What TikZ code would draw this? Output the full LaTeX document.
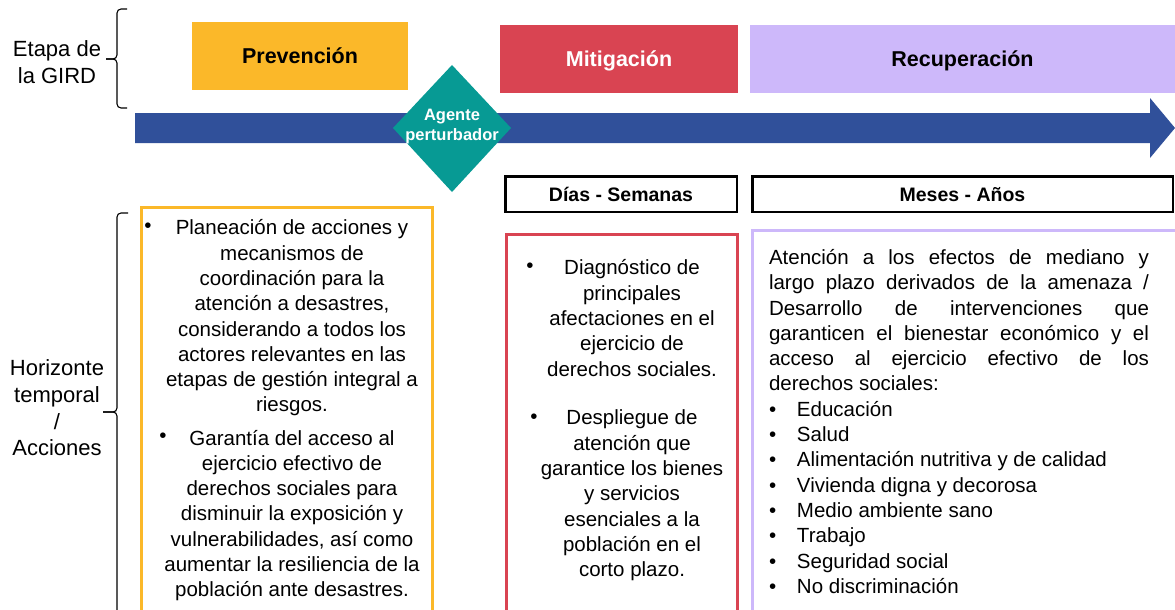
\documentclass[tikz,border=0pt]{standalone}
\usepackage{fontspec}
\setmainfont{Liberation Sans}

\definecolor{prevcolor}{HTML}{FBB829}
\definecolor{mitcolor}{HTML}{D94452}
\definecolor{reccolor}{HTML}{CDB8FA}
\definecolor{timecolor}{HTML}{30509A}
\definecolor{agentcolor}{HTML}{079A94}

\tikzset{
	phase/.style={fill=#1, minimum height=68pt, inner sep=0pt, text height=15.5pt, text depth=0pt, font=\fontsize{21.5}{24}\selectfont\bfseries},
	period/.style={draw=black, line width=2.5pt, minimum height=35.5pt, inner sep=0pt, text height=14pt, text depth=0pt, font=\fontsize{19.5}{22}\selectfont\bfseries},
	agent/.style={align=center, inner sep=0pt, text=white, font=\fontsize{16.5}{20}\selectfont\bfseries},
	actions/.style={align=center, inner sep=0pt, font=\fontsize{20.5}{25.3}\selectfont},
	long actions/.style={align=justify, text width=380pt, inner sep=0pt, font=\fontsize{20.5}{25.3}\selectfont},
	bulletdot/.style={inner sep=0pt, font=\fontsize{20.5}{25.3}\selectfont},
	side label/.style={align=center, inner sep=0pt, font=\fontsize{22}{26.7}\selectfont},
	gird brace/.style={line width=1.1pt, rounded corners=4pt},
}
\newcommand{\recitem}[1]{\makebox[28pt][l]{\textbullet}#1}

\begin{document}
\begin{tikzpicture}[x=1pt, y=-1pt]
		\def\boxbottom{625}
		\def\braceline{117}
		\clip (0,0) rectangle (1175,610);

		% etapas de la GIRD
		\node[phase=prevcolor, minimum width=216pt] (prevencion) 	at (300,56) {Prevención};
		\node[phase=mitcolor, minimum width=238pt, text=white] (mitigacion) at (619,59) {Mitigación};
		\node[phase=reccolor, minimum width=425pt] (recuperacion) 	at (962.5,59) {Recuperación};

		% flecha del tiempo
		\fill[timecolor] (135,113) -- (1150,113) -- (1150,98) -- (1175,128)
			-- (1150,158) -- (1150,143) -- (135,143) -- cycle;

		% agente perturbador
		\fill[agentcolor] (452,65) -- (511,128) -- (452,192) -- (393,128) -- cycle;
		\node[agent] (agente) at (452,127) {Agente\\perturbador};

		% horizonte temporal
		\node[period, minimum width=231.5pt] (dias) 	at (621,194) {Días - Semanas};
		\node[period, minimum width=420.5pt] (meses) 	at (962.5,194) {Meses - Años};

		% llaves y etiquetas laterales
		\coordinate (etapa top) 	at (127,9);
		\coordinate (etapa cusp) 	at (106,59);
		\coordinate (etapa bottom) 	at (127,108);
		\draw[gird brace] (etapa top) -- (\braceline,9) -- (\braceline,59) -- (etapa cusp);
		\draw[gird brace] (etapa cusp) -- (\braceline,59) -- (\braceline,108) -- (etapa bottom);
		\node[side label] (etapa) at (57,62) {Etapa de\\la GIRD};

		\coordinate (acciones top) 		at (128,213);
		\coordinate (acciones cusp) 	at (103,412);
		\coordinate (acciones bottom) 	at (128,616);
		\draw[gird brace] (acciones top) -- (\braceline,213) -- (\braceline,412) -- (acciones cusp);
		\draw[gird brace] (acciones cusp) -- (\braceline,412) -- (\braceline,616) -- (acciones bottom);
		\node[side label] (horizonte) at (57,408) {Horizonte\\temporal\\/\\Acciones};

		% acciones por etapa
		\draw[prevcolor, line width=3pt] (141.5,207.5) rectangle (432.5,\boxbottom);
		\draw[mitcolor, line width=3pt] (506.5,234.5) rectangle (737.5,\boxbottom);
		\draw[reccolor, line width=3pt] (752.5,230.5) rectangle (1190,\boxbottom);

		\node[bulletdot] (prev a dot) at (148,228) {\textbullet};
		\node[actions] (prev a) at (292,318) {Planeación de acciones y\\mecanismos de\\coordinación para la\\atención a desastres,\\considerando a todos los\\actores relevantes en las\\etapas de gestión integral a\\riesgos.};
		\node[bulletdot] (prev b dot) at (163,438) {\textbullet};
		\node[actions] (prev b) at (292,515.5) {Garantía del acceso al\\ejercicio efectivo de\\derechos sociales para\\disminuir la exposición y\\vulnerabilidades, así como\\aumentar la resiliencia de la\\población ante desastres.};

		\node[bulletdot] (mit a dot) at (530,268) {\textbullet};
		\node[actions] (mit a) at (632,318) {Diagnóstico de\\principales\\afectaciones en el\\ejercicio de\\derechos sociales.};
		\node[bulletdot] (mit b dot) at (534,419) {\textbullet};
		\node[actions] (mit b) at (632,495.5) {Despliegue de\\atención que\\garantice los bienes\\y servicios\\esenciales a la\\población en el\\corto plazo.};

		\node[long actions] (rec) at (959,421.5) {Atención a los efectos de mediano y\linebreak largo plazo derivados de la amenaza /\linebreak Desarrollo de intervenciones que\linebreak garanticen el bienestar económico y el\linebreak acceso al ejercicio efectivo de los\linebreak derechos sociales:\\
			\recitem{Educación}\\
			\recitem{Salud}\\
			\recitem{Alimentación nutritiva y de calidad}\\
			\recitem{Vivienda digna y decorosa}\\
			\recitem{Medio ambiente sano}\\
			\recitem{Trabajo}\\
			\recitem{Seguridad social}\\
			\recitem{No discriminación}};

\end{tikzpicture}
\end{document}
